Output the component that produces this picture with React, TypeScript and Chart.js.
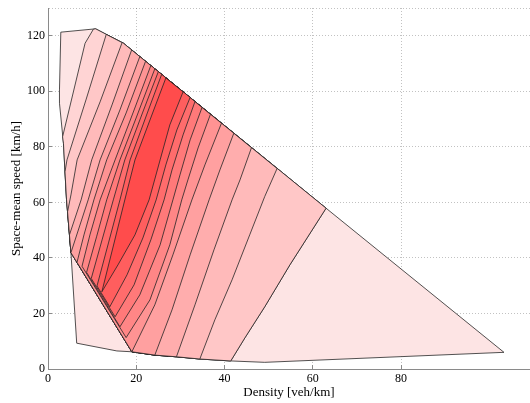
import { useEffect, useRef } from "react";
import { Chart, registerables } from "chart.js";

Chart.register(...registerables);

const densityTicks = [0, 20, 40, 60, 80];
const speedTicks = [0, 20, 40, 60, 80, 100, 120, 130];

// outer boundary of the observed domain [density, speed], clockwise
const outline: number[][] = [
  [2.9, 121.3], [10.8, 122.5], [17.1, 117.3], [63.0, 57.9], [103.3, 6.0],
  [49.1, 2.4], [41.4, 2.9], [34.4, 3.6], [29.1, 4.4], [24.2, 5.0],
  [19.0, 6.2], [15.6, 6.5], [6.5, 9.3], [5.2, 41.9], [4.2, 60.9],
  [3.5, 81.3], [2.6, 95.7], [2.6, 100.5],
];

// left-hand contour branches (from the upper edge downwards)
const L1 = [[10.3, 122.4], [8.4, 117.3], [3.3, 83.6]];
const L2 = [[13.2, 120.5], [8.6, 96.9], [4.3, 75.3], [3.85, 71.0]];
const L3 = [[16.8, 117.6], [11.8, 96.2], [6.6, 75.3], [5.2, 62.7], [4.43, 56.6]];
const L4 = [[18.95, 114.9], [14.5, 95.1], [9.9, 75.3], [7.5, 60.9], [4.86, 48.3]];
const L5 = [[20.8, 112.5], [16.3, 93.3], [11.8, 75.3], [9.1, 60.9]];
const L6 = [[22.1, 110.8], [17.7, 92.2], [13.3, 75.3], [10.4, 60.9], [8.15, 48.3], [6.57, 38.4]];
const L7 = [[23.3, 109.3], [19.25, 92.2], [15.2, 75.3], [11.8, 60.9], [9.5, 48.3], [7.7, 37.0], [17.7, 11.3]];
const L8 = [[24.2, 108.1], [20.4, 92.2], [16.3, 75.3], [13.3, 60.9], [11.0, 47.6], [8.74, 34.8], [16.3, 15.2]];
const L9 = [[25.0, 107.1], [21.4, 92.2], [17.4, 75.3], [14.8, 60.9], [12.25, 46.5], [9.8, 32.6], [15.2, 18.8]];
const L10 = [[25.75, 106.1], [22.5, 92.2], [18.6, 75.3], [16.3, 60.9], [13.7, 45.4], [11.1, 29.9], [14.0, 22.4]];
const L11 = [[26.7, 104.8], [23.7, 92.2], [19.7, 75.3], [17.4, 60.9], [14.8, 44.3], [12.2, 27.8]];

// right-hand contour branches (from the upper edge downwards)
const R2 = [[63.0, 57.9], [54.8, 37.5], [49.1, 22.4], [44.6, 11.2]];
const R3 = [[51.9, 72.2], [49.1, 62.1], [45.7, 48.3], [41.7, 32.1], [37.8, 17.7]];
const R4 = [[46.1, 79.7], [43.5, 68.1], [41.7, 60.9], [37.6, 42.9], [33.3, 23.1]];
const R5 = [[42.1, 84.9], [38.95, 71.7], [36.5, 60.9], [32.2, 41.1], [28.1, 21.3]];
const R6 = [[39.3, 88.5], [35.55, 73.5], [32.6, 60.9], [28.3, 41.1], [24.2, 23.1]];
const R7 = [[36.8, 91.7], [34.0, 79.6], [31.7, 68.1], [30.3, 60.9], [27.6, 44.7], [23.1, 24.9]];
const R8 = [[34.9, 94.2], [32.2, 82.5], [29.9, 69.9], [28.3, 60.9], [25.4, 44.7], [20.8, 26.7]];
const R9 = [[33.3, 96.3], [30.6, 84.3], [28.1, 71.7], [26.3, 60.9], [23.3, 46.5], [19.5, 30.3]];
const R10 = [[32.2, 97.8], [29.2, 86.1], [26.7, 73.5], [24.5, 60.9], [21.5, 47.2], [17.9, 33.9]];
const R11 = [[30.6, 99.8], [27.6, 87.9], [25.4, 75.3], [22.9, 60.9], [19.7, 48.3], [15.85, 37.5]];

// outline vertices that close each level region (bottom side, top side)
const bottomLinks = [
  [15, 14, 13, 10, 9, 8, 7, 6], [14, 13, 10, 9, 8, 7, 6], [13, 10, 9, 8, 7], [13, 10, 9, 8],
  [13, 10, 9], [10], [], [], [], [], [],
];
const topLinks = [[2, 1], [2], [2], [], [], [], [], [], [], [], []];
const leftBranches = [L1, L2, L3, L4, L5, L6, L7, L8, L9, L10, L11];
const rightBranches = [R2, R2, R3, R4, R5, R6, R7, R8, R9, R10, R11];

// green/blue channel of each filled level (red = 255)
const levelShades = [228, 212, 199, 186, 173, 160, 147, 134, 121, 108, 94, 76];

const FONT = "'Liberation Serif', 'Times New Roman', serif";

export default function App() {
  const ref = useRef<HTMLCanvasElement | null>(null);

  useEffect(() => {
    document.body.style.margin = "0";
    if (!ref.current) return;
    const toPts = (arr: number[][]) => arr.map(([x, y]) => ({ x, y }));
    const lineStyle = {
      borderColor: "rgba(35,35,35,0.88)",
      borderWidth: 0.9,
      pointRadius: 0,
      tension: 0,
      fill: "shape" as const,
      borderJoinStyle: "round" as const,
    };
    const datasets: any[] = [];
    datasets.push({
      ...lineStyle,
      data: toPts([...outline, outline[0]]),
      backgroundColor: `rgb(253,${levelShades[0]},${levelShades[0]})`,
      order: 20,
    });
    leftBranches.forEach((left, k) => {
      const ring = [
        ...left,
        ...bottomLinks[k].map((i) => outline[i]),
        ...rightBranches[k].slice().reverse(),
        ...topLinks[k].map((i) => outline[i]),
        left[0],
      ];
      const g = levelShades[k + 1];
      datasets.push({
        ...lineStyle,
        data: toPts(ring),
        backgroundColor: `rgb(255,${g},${g})`,
        order: 19 - k,
      });
    });

    const tickFont = { family: FONT, size: 12 };
    const titleFont = { family: FONT, size: 13 };
    const tickColor = (c: any) => (c.tick && c.tick.value === 130 ? "rgba(0,0,0,0)" : "#8a8a8a");
    const chart = new Chart(ref.current, {
      type: "line",
      data: { datasets },
      options: {
        animation: false,
        responsive: true,
        maintainAspectRatio: false,
        devicePixelRatio: 1,
        layout: { padding: { top: 8, right: 0, bottom: 0, left: 0 } },
        plugins: { legend: { display: false }, tooltip: { enabled: false } },
        scales: {
          x: {
            type: "linear",
            min: 0,
            max: 109.2,
            z: 1,
            afterBuildTicks: (s: any) => {
              s.ticks = densityTicks.map((v) => ({ value: v }));
            },
            afterFit: (s: any) => {
              s.height = 34;
              s.paddingLeft = 0;
              s.paddingRight = 0;
            },
            ticks: { font: tickFont, color: "#000", padding: 7, maxRotation: 0, autoSkip: false },
            grid: {
              color: "rgba(0,0,0,0.24)",
              lineWidth: 1,
              drawTicks: true,
              tickLength: -4,
              tickColor,
              tickWidth: 1,
            },
            border: { display: true, color: "#8a8a8a", width: 1, dash: [1, 2] },
            title: {
              display: true,
              text: "Density [veh/km]",
              font: titleFont,
              color: "#000",
              padding: { top: 0, bottom: 3 },
            },
          },
          y: {
            type: "linear",
            min: 0,
            max: 130,
            z: 1,
            afterBuildTicks: (s: any) => {
              s.ticks = speedTicks.map((v) => ({ value: v }));
            },
            afterFit: (s: any) => {
              s.width = 48;
              s.paddingTop = 0;
              s.paddingBottom = 0;
            },
            ticks: {
              font: tickFont,
              color: "#000",
              padding: 7,
              autoSkip: false,
              callback: (v: any) => (v === 130 ? "" : String(v)),
            },
            grid: {
              color: "rgba(0,0,0,0.24)",
              lineWidth: 1,
              drawTicks: true,
              tickLength: -4,
              tickColor,
              tickWidth: 1,
            },
            border: { display: true, color: "#8a8a8a", width: 1, dash: [1, 2] },
            title: {
              display: true,
              text: "Space-mean speed [km/h]",
              font: titleFont,
              color: "#000",
              padding: { top: 9, bottom: 0 },
            },
          },
        },
      } as any,
    });
    return () => chart.destroy();
  }, []);

  return (
    <div style={{ width: 530, height: 403, position: "relative" }}>
      <canvas ref={ref} />
    </div>
  );
}
